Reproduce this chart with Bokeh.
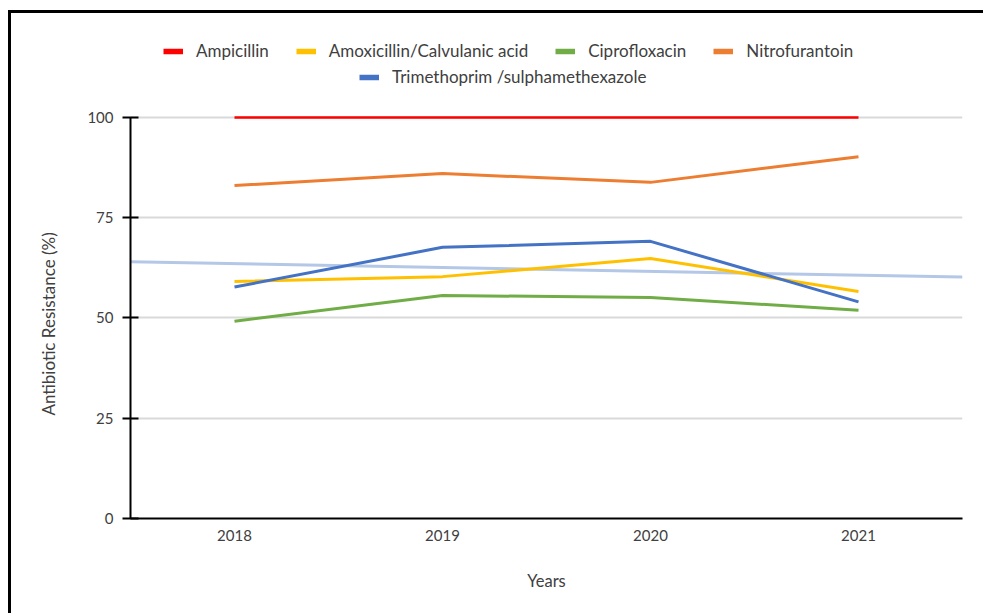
import numpy as np
from bokeh.plotting import figure
from bokeh.models import Range1d, FactorRange, Legend, LegendItem, ColumnDataSource, Title
from bokeh.embed import file_html
from bokeh.resources import INLINE

# Resistance (%) of urinary isolates by year
years = ["2018", "2019", "2020", "2021"]
ampicillin = [100.0, 100.0, 100.0, 100.0]
amoxicillin_clav = [59.1, 60.3, 64.8, 56.6]
ciprofloxacin = [49.2, 55.6, 55.1, 51.9]
nitrofurantoin = [83.0, 86.0, 83.8, 90.2]
trimethoprim_smx = [57.7, 67.6, 69.1, 54.0]

series_names = ["Ampicillin", "Amoxicillin/Calvulanic acid", "Ciprofloxacin",
                "Nitrofurantoin", "Trimethoprim /sulphamethexazole"]
series_values = [ampicillin, amoxicillin_clav, ciprofloxacin, nitrofurantoin, trimethoprim_smx]
series_colors = ["#FF0000", "#FFC000", "#70AD47", "#ED7D31", "#4472C4"]
series_widths = [2.5, 3, 3, 3, 3]
trend_color = "#B4C7E7"

FONT = "Lato"
TEXT = "#404040"

# the frame reaches the top of the canvas so the legend rows sit inside it;
# axis bounds and grid ticks stop at 100
p = figure(
    x_range=FactorRange(*years, range_padding=0),
    y_range=Range1d(0, 125.9),
    width=975, height=603,
    min_border_left=119, min_border_right=24,
    min_border_top=0, min_border_bottom=98,
    output_backend="svg", toolbar_location=None,
)
p.styles = {"border-top": "3px solid black", "border-left": "3px solid black",
            "margin-left": "8px", "margin-top": "10px"}
p.outline_line_color = None
p.background_fill_color = "white"
p.border_fill_color = "white"

# linear trend of trimethoprim/sulphamethexazole across the full category span
idx = np.arange(1, len(years) + 1)
slope, intercept = np.polyfit(idx, trimethoprim_smx, 1)
trend_x = [(years[0], -0.5), (years[-1], 0.5)]
trend_y = [slope * 0.5 + intercept, slope * (len(years) + 0.5) + intercept]
p.line(x=trend_x, y=trend_y, line_color=trend_color, line_width=3)

for name, vals, col, lw in zip(series_names, series_values, series_colors, series_widths):
    src = ColumnDataSource(dict(x=years, y=vals))
    p.line("x", "y", source=src, line_color=col, line_width=lw)

# thick legend keys: renderers with no drawable point, shown only in the legend
keys = [p.line(x=[years[0]], y=[np.nan], line_color=col, line_width=5.5)
        for col in series_colors]

# axes
p.yaxis.bounds = (0, 100)
p.yaxis.ticker = [0, 25, 50, 75, 100]
p.yaxis.axis_line_color = "black"
p.yaxis.axis_line_width = 2
p.yaxis.major_tick_line_color = "black"
p.yaxis.major_tick_line_width = 2
p.yaxis.major_tick_in = 8
p.yaxis.major_tick_out = 8
p.yaxis.minor_tick_line_color = None
p.yaxis.major_label_standoff = 9

p.xaxis.axis_line_color = "black"
p.xaxis.axis_line_width = 2
p.xaxis.major_tick_in = 0
p.xaxis.major_tick_out = 0
p.xaxis.minor_tick_line_color = None
p.xaxis.major_label_standoff = 11
p.xaxis.axis_label = "Years"
p.xaxis.axis_label_standoff = 27

for ax in (p.xaxis, p.yaxis):
    ax.major_label_text_font = FONT
    ax.major_label_text_font_size = "15px"
    ax.major_label_text_color = TEXT
    ax.axis_label_text_font = FONT
    ax.axis_label_text_font_size = "16.5px"
    ax.axis_label_text_font_style = "normal"
    ax.axis_label_text_color = TEXT

# y-axis title centred on the 0-100 span rather than on the whole frame
ytitle = Title(text="Antibiotic Resistance (%)", align="left", offset=103,
               vertical_align="middle", standoff=50,
               text_font=FONT, text_font_size="17px", text_font_style="normal",
               text_color=TEXT)
p.add_layout(ytitle, "left")

p.xgrid.grid_line_color = None
p.ygrid.grid_line_color = "#D9D9D9"
p.ygrid.grid_line_width = 2
p.ygrid.ticker = [25, 50, 75, 100]


def make_legend(items, loc):
    return Legend(items=items, location=loc, orientation="horizontal",
                  padding=0, margin=0, spacing=27, label_standoff=13,
                  glyph_width=20, glyph_height=20, label_height=20,
                  label_text_font=FONT, label_text_font_size="17px",
                  label_text_color=TEXT, border_line_color=None,
                  background_fill_alpha=0)


row1 = [LegendItem(label=n, renderers=[r]) for n, r in zip(series_names[:4], keys[:4])]
row2 = [LegendItem(label=series_names[4], renderers=[keys[4]])]
p.add_layout(make_legend(row1, (33, 457)), "center")
p.add_layout(make_legend(row2, (229, 431)), "center")

open("out.html", "w").write(file_html(p, INLINE))
